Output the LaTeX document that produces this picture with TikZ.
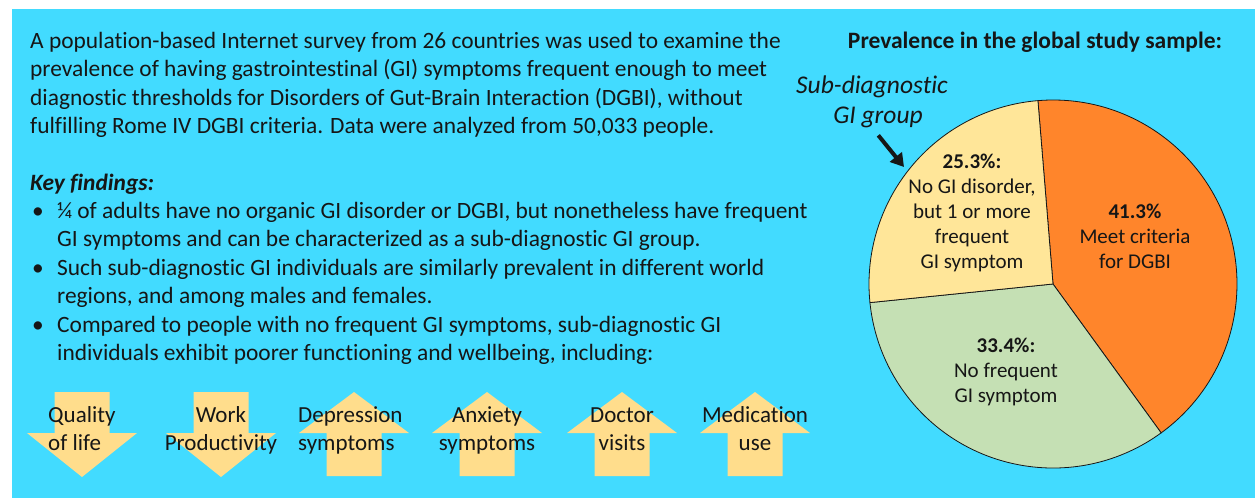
\documentclass[tikz,border=0pt]{standalone}
\usepackage{fontspec}
\setmainfont[Ligatures=NoCommon]{Carlito}
\usetikzlibrary{arrows.meta,positioning}

\definecolor{skyback}{RGB}{66,219,255}
\definecolor{pieorange}{RGB}{255,133,43}
\definecolor{pieyellow}{RGB}{255,230,153}
\definecolor{piegreen}{RGB}{197,224,180}
\definecolor{arrowtan}{RGB}{255,221,140}
\definecolor{inkdark}{RGB}{22,22,22}

\tikzset{
  bodytext/.style={anchor=base west, inner sep=0pt, align=left, text=inkdark,
    font=\fontsize{23.4}{28.5}\selectfont},
  pietext/.style={anchor=base, inner sep=0pt, align=center, text=inkdark,
    font=\fontsize{21}{25}\selectfont},
  arrowlabel/.style={inner sep=0pt, text=inkdark,
    font=\fontsize{23}{28}\selectfont},
  slice/.style={draw=inkdark, line width=0.8pt},
  subarrow/.style={-{Triangle[length=13pt,width=15pt]}, line width=4pt, inkdark}
}

\begin{document}
\begin{tikzpicture}[x=1pt,y=-1pt]
\useasboundingbox (0,0) rectangle (1255,498);
\fill[white] (0,0) rectangle (1255,498);
\fill[skyback] (12,9) rectangle (1255,498);

% Survey text (base = last line)
\node[bodytext] (intro) at (30,133.5) {A population-based Internet survey from 26 countries was used to examine the\\
prevalence of having gastrointestinal (GI) symptoms frequent enough to meet\\
diagnostic thresholds for Disorders of Gut-Brain Interaction (DGBI), without\\
fulfilling Rome IV DGBI criteria. Data were analyzed from 50,033 people.};

\node[bodytext] (keyfind) at (30,190) {\textbf{\textit{Key findings:}}};

% Bullets
\node[bodytext] (dot1) at (32,218) {\textbullet};
\node[bodytext] (item1) at (57,246.5) {¼ of adults have no organic GI disorder or DGBI, but nonetheless have frequent\\
GI symptoms and can be characterized as a sub-diagnostic GI group.};
\node[bodytext] (dot2) at (32,275) {\textbullet};
\node[bodytext] (item2) at (57,303.5) {Such sub-diagnostic GI individuals are similarly prevalent in different world\\
regions, and among males and females.};
\node[bodytext] (dot3) at (32,332) {\textbullet};
\node[bodytext] (item3) at (57,360.5) {Compared to people with no frequent GI symptoms, sub-diagnostic GI\\
individuals exhibit poorer functioning and wellbeing, including:};

% Arrows down
\foreach \ax in {82,221}
  \fill[arrowtan] (\ax-27.5,392) -- (\ax+27.5,392) -- (\ax+27.5,433) -- (\ax+55,433)
    -- (\ax,477) -- (\ax-55,433) -- (\ax-27.5,433) -- cycle;
% Arrows up
\foreach \ax in {354,487,622,755}
  \fill[arrowtan] (\ax,392) -- (\ax+55,433) -- (\ax+27.5,433) -- (\ax+27.5,476)
    -- (\ax-27.5,476) -- (\ax-27.5,433) -- (\ax-55,433) -- cycle;

\foreach \ax/\anc/\al/\txt [count=\i] in {48/base west/left/{Quality\\of life},
    221/base/center/{Work\\Productivity}, 298/base west/left/{Depression\\symptoms},
    487/base/center/{Anxiety\\symptoms}, 622/base/center/{Doctor\\visits},
    755/base/center/{Medication\\use}}
  \node[arrowlabel, anchor=\anc, align=\al] (effect\i) at (\ax,450) {\txt};

% Pie
\node[bodytext, anchor=base, font=\fontsize{23.5}{28.5}\selectfont\bfseries] (pietitle) at (1035,48) {Prevalence in the global study sample:};

\begin{scope}[shift={(1053,284)}, yscale=-1]
\filldraw[slice, fill=pieorange] (0,0) -- (94.7:184) arc (94.7:-54:184) -- cycle;
\filldraw[slice, fill=piegreen] (0,0) -- (-54:184) arc (-54:-174.2:184) -- cycle;
\filldraw[slice, fill=pieyellow] (0,0) -- (185.8:184) arc (185.8:94.7:184) -- cycle;
\end{scope}

\node[pietext] (subpart) at (972,268) {\textbf{25.3\%:}\\No GI disorder,\\but 1 or more\\frequent\\GI symptom};
\node[pietext] (dgbipart) at (1135,268) {\textbf{41.3\%}\\Meet criteria\\for DGBI};
\node[pietext] (nopart) at (1006,402) {\textbf{33.4\%:}\\No frequent\\GI symptom};

\node[bodytext, anchor=base, align=center, font=\fontsize{25.5}{30}\selectfont\itshape] (subgrp) at (872,123) {Sub-diagnostic\\\hspace*{12pt}GI group};
\coordinate (pieedge) at (904,167);
\draw[subarrow, shorten <=10pt] (subgrp.south) -- (pieedge);
\end{tikzpicture}
\end{document}
